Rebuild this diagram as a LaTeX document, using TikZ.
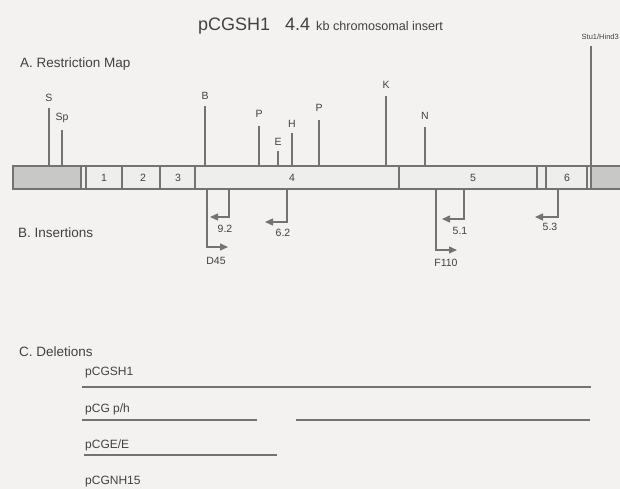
\documentclass[tikz,border=0pt]{standalone}
\usepackage{fontspec}
\setmainfont{Liberation Sans}
\usetikzlibrary{arrows.meta}
\definecolor{bg}{RGB}{243,242,240}
\definecolor{ln}{RGB}{115,115,115}
\definecolor{tx}{RGB}{65,65,65}
\definecolor{shadegray}{RGB}{200,200,198}
\definecolor{barfill}{RGB}{238,238,236}
\newcommand{\fsz}[1]{\fontsize{#1}{#1}\selectfont}
\begin{document}
\begin{tikzpicture}[x=1pt,y=-1pt,
  txt/.style={text=tx, inner sep=0pt},
  sitelbl/.style={txt, font=\fsz{10.5}},
  head/.style={txt, anchor=west, font=\fsz{13.5}},
  dellbl/.style={txt, anchor=west, font=\fsz{12}},
  site/.style={draw=ln, line width=1.3pt},
  barline/.style={draw=ln, line width=1.3pt},
  ins/.style={draw=ln, line width=1.3pt, -{Triangle[length=8pt,width=7pt]}},
  del/.style={draw=ln, line width=2.8pt}]
\fill[bg] (0,0) rectangle (620,489);
\useasboundingbox (0,0) rectangle (620,489);

% title
\node[txt, anchor=base west, font=\fsz{18}] (t1) at (198,31) {pCGSH1};
\node[txt, anchor=base west, font=\fsz{18}] (t2) at (285,31) {4.4};
\node[txt, anchor=base west, font=\fsz{12.6}] (t3) at (316,31) {kb chromosomal insert};

% headings
\node[head] (hA) at (20,64) {A. Restriction Map};
\node[head] (hB) at (18,233) {B. Insertions};
\node[head] (hC) at (19,352) {C. Deletions};

% bar
\fill[barfill] (13,166) rectangle (625,189);
\fill[shadegray] (13,166) rectangle (81,189);
\fill[shadegray] (591,166) rectangle (625,189);
\draw[barline] (13,166) rectangle (625,189);
\foreach \x in {81,86,122,160,195,399,537,546,587,591}
  \draw[barline] (\x,166) -- (\x,189);
\foreach \n/\x in {1/104,2/143,3/178,4/292,5/473,6/567}
  \node[sitelbl] (seg\n) at (\x,178) {\n};

% restriction sites
\foreach \n/\x/\t/\l/\s in {S/49/108/98/S, Sp/62/130/118/Sp, B/205/106/96/B,
    Pa/259/126/114/P, E/278/151/142/E, H/292/133/124/H, Pb/319/120/108/P,
    K/386/96/85/K, N/425/127/116/N}{
  \coordinate (b\n) at (\x,166);
  \coordinate (t\n) at (\x,\t);
  \node[sitelbl] (l\n) at (\x,\l) {\s};
  \draw[site] (b\n) -- (t\n);
}
\coordinate (bStu) at (591,166);
\coordinate (tStu) at (591,46);
\node[txt, anchor=east, font=\fsz{7.5}] (lStu) at (619,37) {Stu1/Hind3};
\draw[site] (bStu) -- (tStu);

% insertions
\foreach \n/\x/\y/\tx/\lx/\ly/\s in {a/207/247/228/216/261/D45, b/229/217/210/225/229/9.2,
    c/287/222/265/283/233/6.2, d/436/250/457/446/263/F110, e/464/219/442/460/231/5.1,
    f/558/217/535/550/227/5.3}{
  \coordinate (iA\n) at (\x,189);
  \coordinate (iB\n) at (\x,\y);
  \coordinate (iC\n) at (\tx,\y);
  \draw[ins] (iA\n) -- (iB\n) -- (iC\n);
  \node[sitelbl] (il\n) at (\lx,\ly) {\s};
}

% deletions
\node[dellbl] (d1) at (85,373) {pCGSH1};
\node[dellbl] (d2) at (85,409) {pCG p/h};
\node[dellbl] (d3) at (85,445) {pCGE/E};
\node[dellbl] (d4) at (85,482) {pCGNH15};
\coordinate (d1a) at (82,387); \coordinate (d1b) at (591,387);
\coordinate (d2a) at (82,420); \coordinate (d2b) at (257,420);
\coordinate (d2c) at (296,420); \coordinate (d2d) at (590,420);
\coordinate (d3a) at (84,455); \coordinate (d3b) at (277,455);
\draw[del] (d1a) -- (d1b);
\draw[del] (d2a) -- (d2b);
\draw[del] (d2c) -- (d2d);
\draw[del] (d3a) -- (d3b);
\end{tikzpicture}
\end{document}
